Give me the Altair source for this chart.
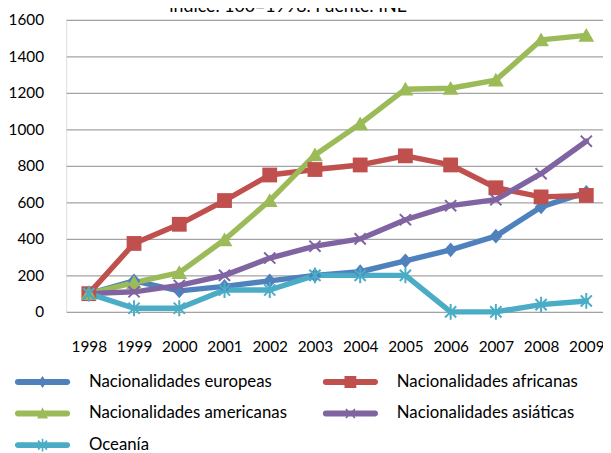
import altair as alt
import pandas as pd

years = ["1998", "1999", "2000", "2001", "2002", "2003", "2004", "2005", "2006", "2007", "2008", "2009"]
series_names = ["Nacionalidades europeas", "Nacionalidades africanas",
                "Nacionalidades americanas", "Nacionalidades asiáticas", "Oceanía"]
europeas = [100, 170, 115, 140, 170, 200, 220, 280, 340, 415, 575, 655]
africanas = [100, 375, 480, 610, 750, 780, 805, 855, 805, 680, 630, 638]
americanas = [100, 160, 215, 395, 610, 860, 1030, 1220, 1225, 1270, 1490, 1515]
asiaticas = [100, 110, 145, 200, 295, 360, 400, 505, 582, 615, 757, 935]
oceania = [100, 20, 20, 120, 120, 200, 200, 200, 0, 0, 40, 60]
colors = ["#4F81BD", "#C0504D", "#9BBB59", "#8064A2", "#4BACC6"]
y_ticks = [0, 200, 400, 600, 800, 1000, 1200, 1400, 1600]
title_text = "índice. 100=1998. Fuente: INE"

values = [europeas, africanas, americanas, asiaticas, oceania]
rows = []
for name, vals in zip(series_names, values):
    for yr, v in zip(years, vals):
        rows.append({"year": yr, "value": v, "series": name})
df = pd.DataFrame(rows)

FONT = "Lato"


# ---- marker path helpers (unit box -1..1 scaled by sqrt(size)/2 px) ----
def f(v):
    return f"{v:.3f}"


def diamond(u, hw, hh):
    return f"M0,{f(-hh/u)}L{f(hw/u)},0L0,{f(hh/u)}L{f(-hw/u)},0Z"


def square(u, h):
    a = h / u
    return f"M{f(-a)},{f(-a)}H{f(a)}V{f(a)}H{f(-a)}Z"


def triangle(u, hw, top, bot):
    return f"M0,{f(-top/u)}L{f(hw/u)},{f(bot/u)}H{f(-hw/u)}Z"


def xcross(u, r, t):
    d = r / 1.4142 / u
    n = t / 1.4142 / u
    p1 = f"M{f(-d-n)},{f(-d+n)}L{f(-d+n)},{f(-d-n)}L{f(d+n)},{f(d-n)}L{f(d-n)},{f(d+n)}Z"
    p2 = f"M{f(-d-n)},{f(d-n)}L{f(d-n)},{f(-d-n)}L{f(d+n)},{f(-d+n)}L{f(-d+n)},{f(d+n)}Z"
    return p1 + p2


def vbar(u, r, t):
    return f"M{f(-t/u)},{f(-r/u)}H{f(t/u)}V{f(r/u)}H{f(-t/u)}Z"


def hbar(u, half_len, t):
    a = (half_len - t) / u
    r = t / u
    return f"M{f(-a)},{f(-r)}H{f(a)}A{f(r)},{f(r)} 0 0 1 {f(a)},{f(r)}H{f(-a)}A{f(r)},{f(r)} 0 0 1 {f(-a)},{f(-r)}Z"


# plot markers: size 256 -> unit = 8 px
U = 8.0
plot_shapes = [
    diamond(U, 6.5, 7.5),
    square(U, 7.5),
    triangle(U, 8, 7.5, 6.5),
    xcross(U, 8, 1.0),
    xcross(U, 8, 1.0) + vbar(U, 8, 1.0),
]
# legend symbols: size 3136 -> unit = 28 px
L = 28.0
bar = hbar(L, 28, 3.0)
legend_shapes = [
    bar + diamond(L, 4.0, 6.0),
    bar + square(L, 6.0),
    bar + triangle(L, 5.5, 6.5, 5.0),
    bar + xcross(L, 6.5, 0.8),
    bar + xcross(L, 6.5, 0.8) + vbar(L, 6.5, 0.8),
]

x_enc = alt.X("year:O", sort=years,
              scale=alt.Scale(type="point", range=[0, 550], padding=0.5),
              axis=alt.Axis(title=None, labelAngle=0, grid=False, domain=False,
                            ticks=False, tickSize=0, labelPadding=28,
                            labelFont=FONT, labelFontSize=15.5, labelColor="black"))
y_enc = alt.Y("value:Q", scale=alt.Scale(domain=[0, 1600], nice=False),
              axis=alt.Axis(title=None, values=y_ticks, format="d", grid=True,
                            gridColor="#a3a3a3", gridWidth=1.3, domain=False, ticks=False,
                            tickSize=0, labelPadding=23, labelFont=FONT, labelFontSize=15.5,
                            labelColor="black"))

lines = alt.Chart(df).mark_line(strokeWidth=5.5, strokeJoin="round", strokeCap="round").encode(
    x=x_enc, y=y_enc,
    stroke=alt.Stroke("series:N", sort=series_names,
                      scale=alt.Scale(domain=series_names, range=colors), legend=None),
)

points = alt.Chart(df).mark_point(filled=True, size=256, opacity=1, strokeWidth=0).encode(
    x=x_enc, y=y_enc,
    fill=alt.Fill("series:N", scale=alt.Scale(domain=series_names, range=colors), legend=None),
    shape=alt.Shape("series:N", scale=alt.Scale(domain=series_names, range=plot_shapes), legend=None),
)

leg = dict(orient="none", legendX=-52, legendY=359, direction="horizontal", columns=2,
           columnPadding=36, rowPadding=15, clipHeight=16, symbolSize=3136,
           symbolStrokeWidth=0, symbolOffset=0, labelFont=FONT, labelFontSize=17,
           labelColor="black", labelOffset=19, title=None, padding=0, labelLimit=300)

legend_layer = alt.Chart(df).transform_filter("false").mark_point(
    filled=True, size=3136, opacity=1, strokeWidth=0).encode(
    x=x_enc, y=y_enc,
    fill=alt.Fill("series:N", scale=alt.Scale(domain=series_names, range=colors),
                  legend=alt.Legend(**leg)),
    shape=alt.Shape("series:N", scale=alt.Scale(domain=series_names, range=legend_shapes),
                    legend=alt.Legend(**leg)),
)

title_layer = alt.Chart(pd.DataFrame({"t": [title_text]})).mark_text(
    font=FONT, fontSize=18, color="black", align="center", baseline="alphabetic"
).encode(text="t:N", x=alt.value(225), y=alt.value(-8))

chart = alt.layer(lines, points, legend_layer, title_layer).resolve_scale(
    shape="independent", fill="independent"
).properties(
    width=544, height=296,
    padding={"left": 59, "top": 9, "right": 0, "bottom": 140},
    autosize=alt.AutoSizeParams(type="none"),
).configure_view(stroke=None).configure(background="white")

chart.save("out.html", embed_options={"renderer": "svg", "actions": False})
